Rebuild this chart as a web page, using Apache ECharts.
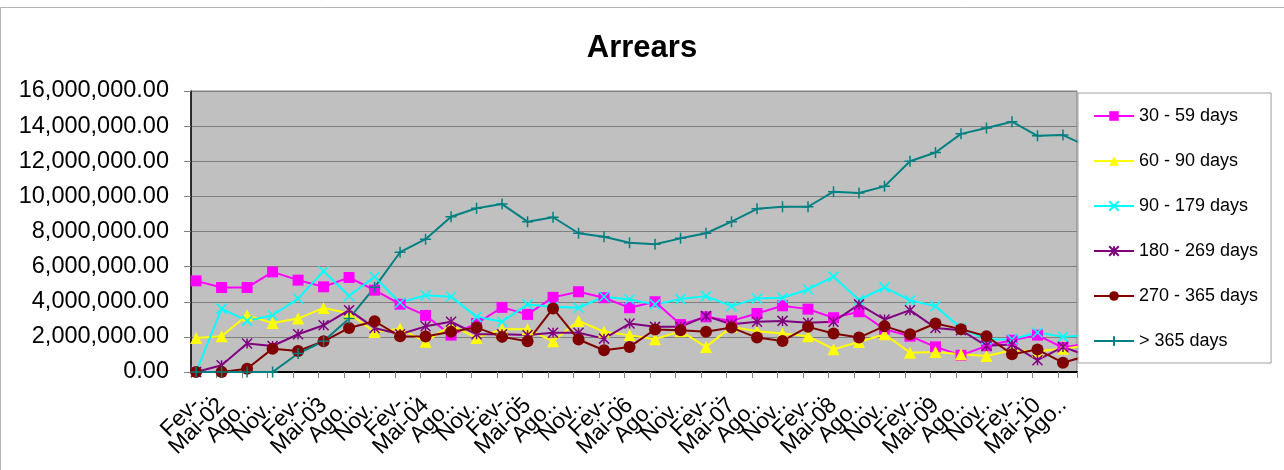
<!DOCTYPE html>
<html>
<head>
<meta charset="utf-8">
<title>Arrears</title>
<script src="https://cdn.jsdelivr.net/npm/echarts@6/dist/echarts.min.js"></script>
<style>
  html, body { margin: 0; padding: 0; background: #fff; }
  #chart { width: 1284px; height: 470px; }
</style>
</head>
<body>
<div id="chart"></div>
<script>
// quarterly months, Fev-02 .. Nov-10 (last one is clipped by the plot edge)
const categories = [
  "Fev-02", "Mai-02", "Ago-02", "Nov-02", "Fev-03", "Mai-03", "Ago-03", "Nov-03",
  "Fev-04", "Mai-04", "Ago-04", "Nov-04", "Fev-05", "Mai-05", "Ago-05", "Nov-05",
  "Fev-06", "Mai-06", "Ago-06", "Nov-06", "Fev-07", "Mai-07", "Ago-07", "Nov-07",
  "Fev-08", "Mai-08", "Ago-08", "Nov-08", "Fev-09", "Mai-09", "Ago-09", "Nov-09",
  "Fev-10", "Mai-10", "Ago-10", "Nov-10",
];

// tick labels as they show (truncated the way the original did)
const tickLabels = [
  "Fev-..", "Mai-02", "Ago..", "Nov..", "Fev-..", "Mai-03", "Ago..", "Nov..",
  "Fev-..", "Mai-04", "Ago..", "Nov..", "Fev-..", "Mai-05", "Ago..", "Nov..",
  "Fev-..", "Mai-06", "Ago..", "Nov..", "Fev-..", "Mai-07", "Ago..", "Nov..",
  "Fev-..", "Mai-08", "Ago..", "Nov..", "Fev-..", "Mai-09", "Ago..", "Nov..",
  "Fev-..", "Mai-10", "Ago..", "Nov..",
];

const yTicks = [0, 2000000, 4000000, 6000000, 8000000, 10000000, 12000000, 14000000, 16000000];

const days30to59 = [
  5190000, 4810000, 4810000, 5700000, 5230000, 4850000, 5380000, 4660000,
  3860000, 3220000, 2100000, 2760000, 3680000, 3280000, 4250000, 4570000,
  4230000, 3660000, 4000000, 2700000, 3140000, 2910000, 3330000, 3770000,
  3580000, 3090000, 3430000, 2440000, 2040000, 1430000, 950000, 1490000,
  1810000, 2100000, 1390000, 1630000,
];

const days60to90 = [
  1940000, 2030000, 3230000, 2790000, 3040000, 3650000, 3330000, 2280000,
  2470000, 1720000, 2670000, 1940000, 2440000, 2440000, 1750000, 2910000,
  2290000, 2100000, 1870000, 2320000, 1430000, 2570000, 2320000, 2190000,
  2040000, 1300000, 1710000, 2150000, 1100000, 1140000, 1010000, 910000,
  1240000, 1180000, 1330000, 1510000,
];

const days90to179 = [
  0, 3610000, 2910000, 3230000, 4180000, 5740000, 4330000, 5420000,
  3940000, 4370000, 4290000, 3140000, 2860000, 3850000, 3710000, 3660000,
  4290000, 4130000, 3850000, 4150000, 4320000, 3750000, 4190000, 4230000,
  4700000, 5430000, 4100000, 4820000, 4080000, 3750000, 2510000, 1850000,
  1870000, 2250000, 2000000, 2110000,
];

const days180to269 = [
  0, 380000, 1620000, 1480000, 2150000, 2660000, 3520000, 2510000,
  2150000, 2600000, 2860000, 2150000, 2150000, 2100000, 2230000, 2230000,
  1900000, 2760000, 2570000, 2570000, 3180000, 2720000, 2860000, 2910000,
  2800000, 2860000, 3850000, 2990000, 3520000, 2510000, 2380000, 1490000,
  1560000, 670000, 1430000, 900000,
];

const days270to365 = [
  0, 0, 190000, 1330000, 1200000, 1750000, 2510000, 2890000,
  2030000, 2020000, 2290000, 2530000, 2000000, 1750000, 3620000, 1850000,
  1240000, 1430000, 2420000, 2380000, 2290000, 2530000, 1960000, 1770000,
  2570000, 2190000, 1960000, 2610000, 2150000, 2760000, 2440000, 2040000,
  1010000, 1280000, 530000, 950000,
];

const over365 = [
  0, 0, 0, 0, 1050000, 1750000, 3040000, 4820000,
  6820000, 7560000, 8840000, 9320000, 9560000, 8560000, 8810000, 7900000,
  7700000, 7360000, 7270000, 7610000, 7900000, 8560000, 9290000, 9410000,
  9410000, 10270000, 10190000, 10570000, 12000000, 12500000, 13560000, 13890000,
  14250000, 13450000, 13490000, 12820000,
];

const FONT = "'Liberation Sans', Arial, sans-serif";

const SYMBOL_X = "path://M0 0L10 10M10 0L0 10";
const SYMBOL_STAR = "path://M0 0L10 10M10 0L0 10M5 0L5 10";
const SYMBOL_PLUS = "path://M5 0L5 10M0 5L10 5";

const SERIES = [
  { name: "30 - 59 days", data: days30to59, color: "#ff00ff", symbol: "rect", size: 11 },
  { name: "60 - 90 days", data: days60to90, color: "#ffff00", symbol: "triangle", size: 12 },
  { name: "90 - 179 days", data: days90to179, color: "#00ffff", symbol: SYMBOL_X, size: 10, stroke: true },
  { name: "180 - 269 days", data: days180to269, color: "#800080", symbol: SYMBOL_STAR, size: 10, stroke: true },
  { name: "270 - 365 days", data: days270to365, color: "#800000", symbol: "circle", size: 12 },
  { name: "> 365 days", data: over365, color: "#008080", symbol: SYMBOL_PLUS, size: 11, stroke: true },
];

function fmtMoney(v) {
  return v.toLocaleString("en-US", { minimumFractionDigits: 2, maximumFractionDigits: 2 });
}

const chart = echarts.init(document.getElementById("chart"));

// the clipped last quarter gets no label; the "Fev" ones sit a bit off, like the original
const shownLabels = tickLabels.slice(0, categories.length - 1).map((t) =>
  t.startsWith("Fev") ? { value: t, textStyle: { padding: [20, -13, 0, 0] } } : t
);

const option = {
  animation: false,
  backgroundColor: "#fff",
  textStyle: { fontFamily: FONT },
  graphic: [
    {
      type: "rect",
      silent: true,
      z: -10,
      shape: { x: 0.5, y: 7.5, width: 1400, height: 600 },
      style: { fill: "none", stroke: "#b4b4b4", lineWidth: 1 },
    },
  ],
  title: {
    text: "Arrears",
    left: "center",
    top: 28,
    textStyle: { fontFamily: FONT, fontSize: 31, fontWeight: "bold", color: "#000" },
  },
  legend: {
    orient: "vertical",
    left: 1078,
    top: 93,
    padding: [14, 13, 13, 15],
    itemWidth: 40,
    itemHeight: 12,
    itemGap: 27,
    backgroundColor: "#fff",
    borderColor: "#a0a0a0",
    borderWidth: 1,
    textStyle: { fontFamily: FONT, fontSize: 18, color: "#000" },
    data: SERIES.map((s) => s.name),
  },
  grid: [
    {
      left: 191,
      right: 207,
      top: 91,
      bottom: 98,
      show: true,
      backgroundColor: "#c0c0c0",
      borderColor: "#808080",
      borderWidth: 1,
    },
    // label-only grid: first and last visible quarter sit on its edges
    { left: 196, right: 221, top: 91, bottom: 98, show: false },
  ],
  xAxis: [
    {
      type: "value",
      gridIndex: 0,
      min: -0.2,
      max: 34.55,
      interval: 1,
      axisLine: { onZero: false, lineStyle: { color: "#000", width: 2 } },
      axisTick: { show: true, length: 6, lineStyle: { color: "#808080" } },
      splitLine: { show: false },
      axisLabel: { show: false },
    },
    {
      type: "category",
      gridIndex: 1,
      data: shownLabels,
      boundaryGap: false,
      axisLine: { show: false },
      axisTick: { show: false },
      splitLine: { show: false },
      axisLabel: {
        interval: 0,
        rotate: 45,
        margin: 30,
        fontFamily: FONT,
        fontSize: 22.5,
        color: "#000",
      },
    },
  ],
  yAxis: [
    {
      type: "value",
      gridIndex: 0,
      min: yTicks[0],
      max: yTicks[yTicks.length - 1],
      interval: yTicks[1] - yTicks[0],
      axisLine: { show: true, onZero: false, lineStyle: { color: "#000", width: 1.5 } },
      axisTick: { show: true, length: 7, lineStyle: { color: "#808080" } },
      splitLine: { lineStyle: { color: "#808080", width: 1 } },
      axisLabel: {
        formatter: (v) => fmtMoney(v),
        margin: 22,
        fontFamily: FONT,
        fontSize: 23.5,
        color: "#000",
      },
    },
    { type: "value", gridIndex: 1, show: false },
  ],
  series: SERIES.map((s) => ({
    name: s.name,
    type: "line",
    xAxisIndex: 0,
    yAxisIndex: 0,
    clip: true,
    symbol: s.symbol,
    symbolSize: s.size,
    showAllSymbol: true,
    lineStyle: { width: 2, color: s.color },
    itemStyle: s.stroke
      ? { color: s.color, borderColor: s.color, borderWidth: 1.5 }
      : { color: s.color, borderWidth: 0 },
    data: s.data.map((v, i) => [i, v]),
  })),
};

chart.setOption(option);
window.addEventListener("resize", () => chart.resize());
</script>
</body>
</html>
